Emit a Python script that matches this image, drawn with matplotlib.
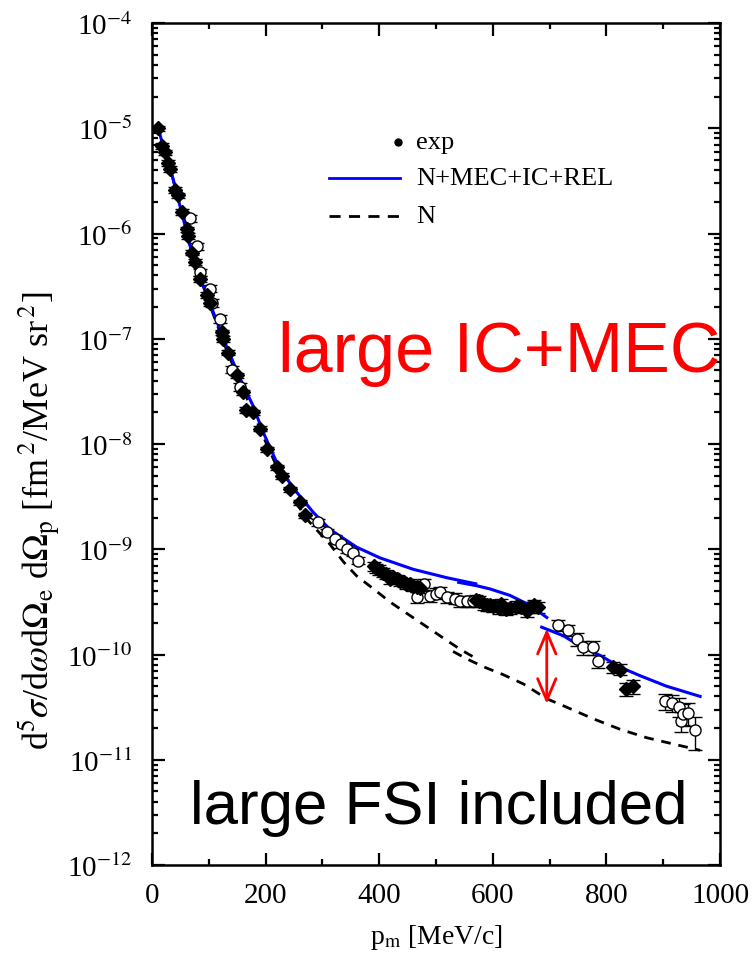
import numpy as np
import matplotlib
matplotlib.use("Agg")
import matplotlib.pyplot as plt
from matplotlib.ticker import LogLocator, FuncFormatter, MultipleLocator, NullFormatter

plt.rcParams['font.family'] = ['Liberation Serif', 'DejaVu Serif']
plt.rcParams['mathtext.fontset'] = 'stix'

# experimental points, filled diamonds: p_m [MeV/c], cross section, relative error
dia_p = [11, 17, 23, 28, 32, 40, 46, 52, 61, 64, 70, 76, 84, 96, 102, 123, 125, 134,
         149, 161, 166, 178, 190, 202, 220, 228, 243, 261, 269,
         390, 395, 400, 407, 412, 419, 425, 431, 437, 443, 448, 455, 460, 466, 472,
         570, 575, 585, 590, 595, 601, 610, 615, 624, 630, 642, 650, 660, 665, 672, 680,
         812, 824, 835, 847]
dia_s = [1.0e-5, 6.8e-6, 5.9e-6, 4.7e-6, 4.1e-6, 2.6e-6, 2.3e-6, 1.6e-6, 1.1e-6, 9.5e-7,
         6.6e-7, 5.4e-7, 3.7e-7, 2.6e-7, 2.2e-7, 1.15e-7, 1.0e-7, 7.4e-8,
         4.5e-8, 3.1e-8, 2.1e-8, 2.0e-8, 1.4e-8, 8.9e-9, 6.0e-9, 5.0e-9, 3.7e-9, 2.8e-9, 2.1e-9,
         6.9e-10, 6.6e-10, 6.4e-10, 6.0e-10, 5.8e-10, 5.2e-10, 5.4e-10, 5.2e-10, 5.0e-10,
         4.9e-10, 4.7e-10, 4.7e-10, 4.5e-10, 4.4e-10, 4.3e-10,
         3.3e-10, 3.2e-10, 3.0e-10, 2.95e-10, 2.95e-10, 2.9e-10, 2.75e-10, 3.0e-10, 2.7e-10,
         2.75e-10, 2.9e-10, 2.8e-10, 2.6e-10, 2.8e-10, 2.95e-10, 2.8e-10,
         7.6e-11, 7.2e-11, 4.7e-11, 5.0e-11]
dia_e = [0.06] * 29 + [0.10] * 15 + [0.12] * 16 + [0.12, 0.12, 0.15, 0.15]

# experimental points, open circles
circ_p = [67, 79, 84, 102, 105, 119, 140, 155,
          293, 308, 322, 333, 343, 354, 363,
          466, 478, 489, 500, 507, 520, 533, 542, 554, 565,
          715, 733, 748, 759, 777, 786,
          903, 915, 927, 932, 935, 944, 956]
circ_s = [1.4e-6, 7.6e-7, 4.3e-7, 3.0e-7, 2.2e-7, 1.55e-7, 5.1e-8, 3.5e-8,
          1.8e-9, 1.45e-9, 1.26e-9, 1.12e-9, 1.0e-9, 9.3e-10, 7.8e-10,
          3.5e-10, 4.7e-10, 3.6e-10, 3.8e-10, 3.9e-10, 3.5e-10, 3.4e-10, 3.2e-10, 3.2e-10, 3.2e-10,
          1.9e-10, 1.7e-10, 1.4e-10, 1.17e-10, 1.17e-10, 8.7e-11,
          3.6e-11, 3.5e-11, 3.2e-11, 2.35e-11, 2.75e-11, 2.8e-11, 1.9e-11]
circ_e = [0.08] * 8 + [0.08] * 7 + [0.12] * 10 + [0.12, 0.12, 0.14, 0.15, 0.15, 0.15] + \
         [0.18, 0.18, 0.2, 0.22, 0.22, 0.25, 0.35]

# N+MEC+IC+REL calculation (three kinematic pieces)
full_p1 = [10, 15, 37, 55, 73, 90, 108, 131, 155, 178, 195, 225, 255, 284, 313, 360,
           401, 460, 519, 554, 570]
full_s1 = [1.07e-5, 8.3e-6, 3.3e-6, 1.38e-6, 5.75e-7, 3.16e-7, 1.78e-7, 8.5e-8, 4.2e-8,
           2.3e-8, 1.32e-8, 5.75e-9, 3.47e-9, 2.24e-9, 1.55e-9, 1.05e-9,
           8.3e-10, 6.45e-10, 5.37e-10, 4.9e-10, 4.7e-10]
full_p2 = [540, 572, 595, 630, 654, 675, 695]
full_s2 = [4.85e-10, 4.5e-10, 4.2e-10, 3.65e-10, 3.15e-10, 2.7e-10, 2.25e-10]
full_p3 = [686, 724, 754, 789, 824, 859, 906, 965]
full_s3 = [1.82e-10, 1.51e-10, 1.2e-10, 9.8e-11, 7.6e-11, 6.3e-11, 5.0e-11, 4.0e-11]

# N calculation (two pieces)
n_p1 = [10, 15, 37, 55, 73, 90, 108, 131, 155, 178, 200, 225, 250, 272, 313, 337, 360,
        390, 419, 454, 490, 520, 545, 575]
n_s1 = [1.07e-5, 8.3e-6, 3.3e-6, 1.38e-6, 5.75e-7, 3.1e-7, 1.7e-7, 7.9e-8, 3.8e-8,
        2.0e-8, 1.05e-8, 5.25e-9, 3.0e-9, 1.95e-9, 1.12e-9, 7.6e-10, 5.6e-10,
        4.2e-10, 3.16e-10, 2.35e-10, 1.74e-10, 1.35e-10, 1.1e-10, 8.9e-11]
n_p2 = [530, 554, 585, 618, 654, 695, 730, 777, 824, 871, 941, 965]
n_s2 = [1.07e-10, 9.1e-11, 7.6e-11, 6.45e-11, 5.25e-11, 3.8e-11, 3.16e-11, 2.45e-11,
        1.95e-11, 1.62e-11, 1.32e-11, 1.23e-11]

# FSI gap marked at p_m = 695
gap_p = 695
gap_top = 1.76e-10
gap_bot = 3.4e-11

fig = plt.figure(figsize=(7.53, 9.54), dpi=100)
ax = fig.add_axes([0.2019, 0.0922, 0.7543, 0.8826])

dash = dict(color='black', lw=2, dashes=(3.5, 2.8))
ax.plot(n_p1, n_s1, **dash)
ax.plot(n_p2, n_s2, **dash)

ax.errorbar(circ_p, circ_s, yerr=np.array(circ_s) * np.array(circ_e), fmt='o',
            mfc='white', mec='black', mew=1.0, ms=8, ecolor='black', elinewidth=1.0,
            capsize=5, capthick=1.0)
ax.errorbar(dia_p, dia_s, yerr=np.array(dia_s) * np.array(dia_e), fmt='D',
            mfc='black', mec='black', ms=7, ecolor='black', elinewidth=1.0,
            capsize=5, capthick=1.0)

for pp, ss in [(full_p1, full_s1), (full_p2, full_s2), (full_p3, full_s3)]:
    ax.plot(pp, ss, color='#0000ff', lw=2.2)

ax.annotate('', xy=(gap_p, gap_bot), xytext=(gap_p, gap_top),
            arrowprops=dict(arrowstyle='<->,head_length=1.3,head_width=0.55',
                            color='red', lw=2, mutation_scale=12,
                            shrinkA=0, shrinkB=0))

ax.set_yscale('log')
ax.set_xlim(0, 1000)
ax.set_ylim(1e-12, 1e-4)
ax.xaxis.set_major_locator(MultipleLocator(200))
ax.xaxis.set_minor_locator(MultipleLocator(100))
ax.yaxis.set_major_locator(LogLocator(base=10, numticks=20))
ax.yaxis.set_minor_locator(LogLocator(base=10, subs=np.arange(2, 10), numticks=20))
ax.yaxis.set_minor_formatter(NullFormatter())
ax.yaxis.set_major_formatter(FuncFormatter(lambda v, pos: '10$^{%d}$' % round(np.log10(v))))

ax.tick_params(which='both', direction='in', top=True, right=True, width=1.6)
ax.tick_params(which='major', length=9, labelsize=21)
ax.tick_params(axis='y', which='major', pad=14)
ax.tick_params(axis='x', which='major', pad=12)
ax.tick_params(which='minor', length=4.5)
for s in ax.spines.values():
    s.set_linewidth(1.8)

ax.set_xlabel(r'p$_{\rm m}$ [MeV/c]', fontsize=20, labelpad=10)
ax.set_ylabel(r'd$^5\sigma$/d$\omega$d$\Omega_{\rm e}$ d$\Omega_{\rm p}$ [fm$^{\,2}$/MeV sr$^{\,2}$]',
              fontsize=26)
ax.yaxis.set_label_coords(-0.158, 0.41)

# legend drawn by hand
ta = ax.transAxes
ax.plot([0.433], [0.859], 'o', color='black', ms=5, transform=ta)
ax.text(0.465, 0.859, 'exp', fontsize=19, va='center', transform=ta)
ax.plot([0.312, 0.437], [0.816, 0.816], color='#0000ff', lw=2, transform=ta)
ax.text(0.465, 0.816, 'N+MEC+IC+REL', fontsize=19, va='center', transform=ta)
ax.plot([0.312, 0.437], [0.771, 0.771], color='black', lw=2, dashes=(4, 3), transform=ta)
ax.text(0.465, 0.771, 'N', fontsize=19, va='center', transform=ta)

ax.text(0.222, 0.587, 'large IC+MEC', color='red', fontsize=50.5,
        family='Liberation Sans', va='baseline', transform=ta)
ax.text(0.067, 0.05, 'large FSI included', color='black', fontsize=44.5,
        family='Liberation Sans', va='baseline', transform=ta)

fig.savefig('out.png', dpi=100)
